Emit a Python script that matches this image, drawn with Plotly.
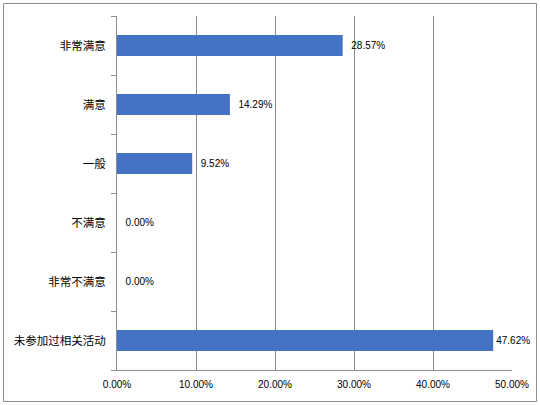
import plotly.graph_objects as go

# 满意度调查数据
categories = ["非常满意", "满意", "一般", "不满意", "非常不满意", "未参加过相关活动"]
values = [28.57, 14.29, 9.52, 0.00, 0.00, 47.62]
x_ticks = [0, 10, 20, 30, 40, 50]
x_tick_labels = ["0.00%", "10.00%", "20.00%", "30.00%", "40.00%", "50.00%"]

W, H = 540, 405
ml, mr, mt, mb = 117, 28, 16, 35
pw, ph = W - ml - mr, H - mt - mb

# labels near the right edge sit tight against the bar (as in the original)
labels = [("" if v > 45 else "  ") + f"{v:.2f}%" for v in values]

fig = go.Figure(go.Bar(
    y=categories,
    x=values,
    orientation="h",
    marker=dict(color="#4472C4", line=dict(width=0)),
    text=labels,
    textposition="outside",
    textfont=dict(size=10, color="#000000", family="Liberation Sans, sans-serif"),
    cliponaxis=False,
))

# outer frame of the chart
def px2paper_x(p):
    return (p - ml) / pw

def px2paper_y(p):
    return 1 - (p - mt) / ph

fig.add_shape(type="rect", xref="paper", yref="paper",
              x0=px2paper_x(3.5), x1=px2paper_x(536.5),
              y0=px2paper_y(401.5), y1=px2paper_y(3.5),
              line=dict(color="#8c8c8c", width=1), layer="above")

fig.update_layout(
    width=W, height=H,
    margin=dict(l=ml, r=mr, t=mt, b=mb, autoexpand=False),
    plot_bgcolor="white", paper_bgcolor="white",
    font=dict(family="Noto Sans CJK SC, Liberation Sans, sans-serif", size=11, color="#000000"),
    bargap=0.64,
    showlegend=False,
    xaxis=dict(
        range=[0, 50], tickvals=x_ticks, ticktext=x_tick_labels,
        showgrid=True, gridcolor="#8c8c8c", gridwidth=1,
        showline=True, linecolor="#8c8c8c", linewidth=1,
        ticks="", zeroline=False, automargin=False, ticklabelstandoff=5,
        tickfont=dict(size=10, family="Liberation Sans, sans-serif"),
    ),
    yaxis=dict(
        categoryorder="array", categoryarray=categories[::-1],
        showline=True, linecolor="#8c8c8c", linewidth=1,
        ticks="outside", ticklen=5, tickcolor="#8c8c8c", tickson="boundaries",
        showgrid=False, automargin=False, ticklabelstandoff=8,
        tickfont=dict(size=11.5),
    ),
)

# drop the default page margin so the chart sits at the window's corner
fig.write_html("out.html", config={"displayModeBar": False},
               post_script="document.body.style.margin='0';document.body.style.overflow='hidden';")
